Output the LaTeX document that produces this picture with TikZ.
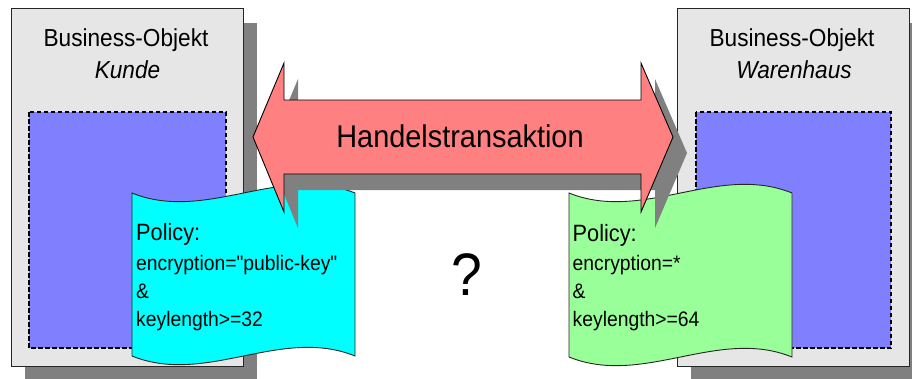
\documentclass[tikz,border=0pt]{standalone}
\usepackage{fontspec}
\setmainfont{Liberation Sans}[FakeStretch=0.92, Ligatures=TeXOff]
\definecolor{boxgray}{HTML}{E6E6E6}
\definecolor{shadowgray}{HTML}{808080}
\definecolor{compblue}{HTML}{8080FF}
\definecolor{tradered}{HTML}{FF8080}
\definecolor{policycyan}{HTML}{00FFFF}
\definecolor{policygreen}{HTML}{99FF99}
\begin{document}
\begin{tikzpicture}[x=1pt,y=-1pt,
  dropshadow/.style={fill=shadowgray, draw=none},
  objbox/.style={fill=boxgray, draw=black!85, line width=0.9pt},
  component/.style={fill=compblue, draw=black, line width=2pt, dash pattern=on 4.5pt off 2.5pt},
  policydoc/.style={draw=black!85, line width=0.9pt},
  tradearrow/.style={fill=tradered, draw=black, line width=0.9pt},
  title/.style={inner sep=0pt, anchor=base, font=\fontsize{24.6}{29}\selectfont},
  policyhead/.style={inner sep=0pt, anchor=base west, font=\fontsize{23.6}{28}\selectfont},
  policyline/.style={inner sep=0pt, anchor=base west, font=\fontsize{21}{25}\selectfont}]
\useasboundingbox (0,0) rectangle (912,378);

% business object "Kunde"
\path[dropshadow] (25,23) rectangle (257,381);
\draw[objbox] (11,8) rectangle (243,366);
\node[title] (kundeA) at (126,46.5) {Business-Objekt};
\node[title] (kundeB) at (127.5,78) {\itshape Kunde};
\draw[component] (29,112) rectangle (226,348);

% business object "Warenhaus"
\path[dropshadow] (691,23) rectangle (923,381);
\draw[objbox] (677,8) rectangle (909,366);
\node[title] (lagerA) at (792,46.5) {Business-Objekt};
\node[title] (lagerB) at (794,78) {\itshape Warenhaus};
\draw[component] (696,112) rectangle (891,348);

% policy documents
\draw[policydoc, fill=policycyan]
  (132,193) .. controls (206.3,223) and (280.7,163) .. (355,193)
  -- (355,356) .. controls (280.7,326) and (206.3,386) .. (132,356) -- cycle;
\draw[policydoc, fill=policygreen]
  (569,193) .. controls (643.3,223) and (717.7,163) .. (792,193)
  -- (792,357) .. controls (717.7,327) and (643.3,387) .. (569,357) -- cycle;

\node[policyhead] (pcA) at (136,240) {Policy:};
\node[policyline] (pcB) at (136,270) {encryption="public-key"};
\node[policyline] (pcC) at (136,298) {\&};
\node[policyline] (pcD) at (136,326) {keylength>=32};

\node[policyhead] (pgA) at (572.5,241) {Policy:};
\node[policyline] (pgB) at (572.5,270) {encryption=*};
\node[policyline] (pgC) at (572.5,298) {\&};
\node[policyline] (pgD) at (572.5,326) {keylength>=64};

% double-headed trade arrow with its shadow
\path[dropshadow, shift={(14,16)}]
  (253,137) -- (284,63) -- (284,100) -- (641,100) -- (641,63) -- (673,137)
  -- (641,212) -- (641,174) -- (284,174) -- (284,212) -- cycle;
\draw[tradearrow]
  (253,137) -- (284,63) -- (284,100) -- (641,100) -- (641,63) -- (673,137)
  -- (641,212) -- (641,174) -- (284,174) -- (284,212) -- cycle;
\node[inner sep=0pt, anchor=base, font=\fontsize{31.4}{36}\selectfont] (trade) at (460,147.5) {Handelstransaktion};

\node[inner sep=0pt, anchor=base, font=\fontsize{60}{68}\selectfont] (question) at (467,295) {?};
\end{tikzpicture}
\end{document}
